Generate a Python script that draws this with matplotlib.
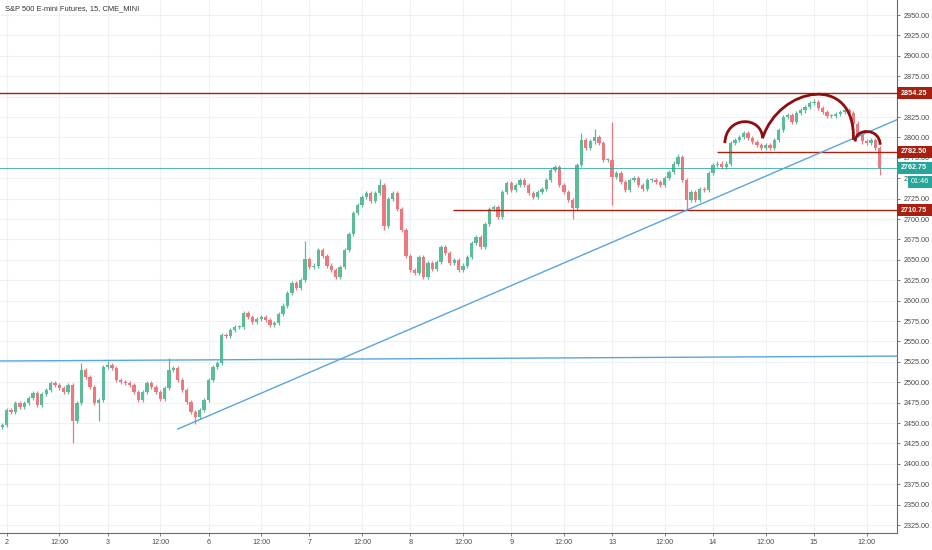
import numpy as np
import matplotlib
matplotlib.use("Agg")
import matplotlib.pyplot as plt
from matplotlib.patches import Rectangle, PathPatch
from matplotlib.path import Path

plt.rcParams['font.family'] = ['Liberation Sans', 'DejaVu Sans']

# Hourly candles, x in trading hours from midnight of the "2" session
hours = np.arange(-1, 200)
closes = [2448, 2466, 2463, 2474, 2470, 2475, 2481, 2487, 2472, 2485,
          2490, 2499, 2497, 2493, 2488, 2497, 2453, 2475, 2515, 2506,
          2494, 2475, 2478, 2519, 2521, 2517, 2503, 2500, 2499, 2497,
          2488, 2478, 2488, 2499, 2494, 2488, 2480, 2493, 2515, 2517,
          2503, 2490, 2476, 2464, 2457, 2466, 2478, 2503, 2519, 2523,
          2558, 2557, 2564, 2568, 2568, 2585, 2580, 2574, 2578, 2580,
          2576, 2570, 2572, 2584, 2594, 2609, 2621, 2615, 2625, 2651,
          2641, 2643, 2662, 2655, 2643, 2637, 2629, 2641, 2662, 2682,
          2707, 2717, 2727, 2732, 2722, 2732, 2742, 2691, 2724, 2732,
          2712, 2687, 2655, 2637, 2634, 2654, 2629, 2646, 2639, 2647,
          2666, 2658, 2646, 2650, 2637, 2643, 2653, 2671, 2678, 2666,
          2694, 2712, 2715, 2702, 2733, 2744, 2736, 2742, 2748, 2742,
          2732, 2727, 2733, 2737, 2748, 2760, 2764, 2742, 2733, 2723,
          2713, 2766, 2797, 2787, 2795, 2801, 2793, 2772, 2772, 2752,
          2756, 2745, 2736, 2748, 2750, 2742, 2737, 2748, 2748, 2745,
          2742, 2750, 2758, 2768, 2776, 2748, 2723, 2733, 2723, 2737,
          2736, 2756, 2766, 2768, 2764, 2768, 2793, 2797, 2801, 2805,
          2799, 2794, 2791, 2787, 2791, 2787, 2797, 2809, 2825, 2828,
          2819, 2830, 2833, 2837, 2842, 2843, 2836, 2831, 2826, 2826,
          2829, 2831, 2834, 2830, 2817, 2803, 2795, 2793, 2797, 2787,
          2762.75]
first_open = 2445
# notable wicks: hour -> (high, low)
wicks = {15: (2499, 2425), 17: (2523, None), 21: (None, 2453), 23: (2526, None),
         37: (2530, None), 43: (None, 2449), 68: (2673, None), 85: (2749, None),
         86: (None, 2687), 129: (None, 2700), 131: (2806, None), 134: (2810, None),
         138: (2819, 2717), 153: (2780, None), 155: (None, 2711), 184: (2847, None),
         199: (None, 2754)}

day_labels = ['2', '3', '6', '7', '8', '9', '13', '14', '15']
price_ticks = np.arange(2325, 2951, 25)

res_top = 2854.25
res_mid = 2782.50
support = 2710.75
last_price = 2762.75
countdown = '01:46'
bottom_tag = 2312.75

# drawings
flat_line = [(-1.53, 2526), (202.94, 2532)]
trend_line = [(39.0, 2442.6), (202.94, 2821.7)]
left_shoulder = [(163.7, 2793), (163.9, 2827), (172.1, 2827), (172.3, 2799)]
head = [(172.3, 2799), (176.0, 2862), (193.5, 2880), (193.0, 2797)]
right_shoulder = [(193.4, 2795), (193.5, 2812), (199.0, 2812), (199.1, 2791)]

up_col = '#5dbc98'
down_col = '#ec7880'
red_col = '#a8200f'
teal_col = '#26a69a'
blue_col = '#5aa5dc'
grid_col = '#eef1f6'
text_col = '#4a4a4a'

fig = plt.figure(figsize=(9.32, 5.5), dpi=100)
ax = fig.add_axes([0, 17 / 550, 897 / 932, 533 / 550])
ax.set_xlim(-1.53, 202.94)
ax.set_ylim(2315.2, 2968.4)

# grid
xt = []
xl = []
for d, lab in enumerate(day_labels):
    xt += [23 * d, 23 * d + 12]
    xl += [lab, '12:00']
for x in xt:
    ax.axvline(x, color=grid_col, lw=0.8, zorder=0)
for p in price_ticks:
    ax.axhline(p, color=grid_col, lw=0.8, zorder=0)

# candles
opens = [first_open] + closes[:-1]
for t, o, c in zip(hours, opens, closes):
    col = up_col if c >= o else down_col
    hi = max(o, c) + 2.5
    lo = min(o, c) - 2.5
    if t in wicks:
        h, l = wicks[t]
        if h is not None:
            hi = h
        if l is not None:
            lo = l
    ax.vlines(t, lo, hi, color=col, lw=0.9, zorder=2)
    body = max(abs(c - o), 1.2)
    ax.bar(t, body, bottom=min(o, c), width=0.75, color=col, lw=0, zorder=3)

# horizontal levels
ax.axhline(res_top, color=red_col, lw=1, zorder=4)
ax.hlines(res_mid, 161.9, 202.94, color=red_col, lw=1, zorder=4)
ax.hlines(support, 101.7, 202.94, color=red_col, lw=1, zorder=4)
ax.axhline(last_price, color=teal_col, lw=0.7, alpha=0.8, zorder=4)

# blue lines
ax.plot(*zip(*flat_line), color=blue_col, lw=1, zorder=4)
ax.plot(*zip(*trend_line), color=blue_col, lw=1, zorder=4)

# head and shoulders curves
for pts in (left_shoulder, head, right_shoulder):
    path = Path(pts, [Path.MOVETO, Path.CURVE4, Path.CURVE4, Path.CURVE4])
    ax.add_patch(PathPatch(path, fc='none', ec='#8b0f0f', lw=2, zorder=5))

# axes styling
for s in ('top', 'left'):
    ax.spines[s].set_visible(False)
for s in ('right', 'bottom'):
    ax.spines[s].set_color('#6b6b6b')
    ax.spines[s].set_linewidth(0.8)
ax.yaxis.tick_right()
ax.set_yticks(price_ticks)
# 2850 sits fully under the 2854.25 tag
ax.set_yticklabels(['' if p == 2850 else '%.2f' % p for p in price_ticks])
ax.set_xticks(xt)
ax.set_xticklabels(xl)
ax.tick_params(axis='both', colors='#6b6b6b', labelcolor=text_col,
               labelsize=5.2, length=2.5, width=0.6, pad=2)

# price tags on the right axis
ytr = ax.get_yaxis_transform()
px = 1.0 / 897
for price, col, lab in [(res_top, red_col, '2854.25'), (res_mid, red_col, '2782.50'),
                        (support, red_col, '2710.75'), (last_price, teal_col, '2762.75'),
                        (bottom_tag, red_col, '2312.75')]:
    clip = price < 2320
    ax.add_patch(Rectangle((1.0, price - 7.5), 35 * px, 15, transform=ytr,
                           fc=col, ec='none', clip_on=clip, zorder=10))
    if not clip:
        ax.text(1.0 + 4 * px, price, lab, transform=ytr, ha='left', va='center',
                color='white', fontsize=5.2, fontweight='bold', clip_on=False, zorder=11)
ax.add_patch(Rectangle((1.0 + 11 * px, 2738.5), 24 * px, 14.5, transform=ytr,
                       fc=teal_col, ec='none', clip_on=False, zorder=10))
ax.text(1.0 + 14 * px, 2745.8, countdown, transform=ytr, ha='left', va='center',
        color='white', fontsize=5.2, clip_on=False, zorder=11)

fig.text(5 / 932, 1 - 9 / 550, 'S&P 500 E-mini Futures, 15, CME_MINI',
         fontsize=5.4, color='#333333', ha='left', va='center')

fig.savefig('out.png', dpi=100)
